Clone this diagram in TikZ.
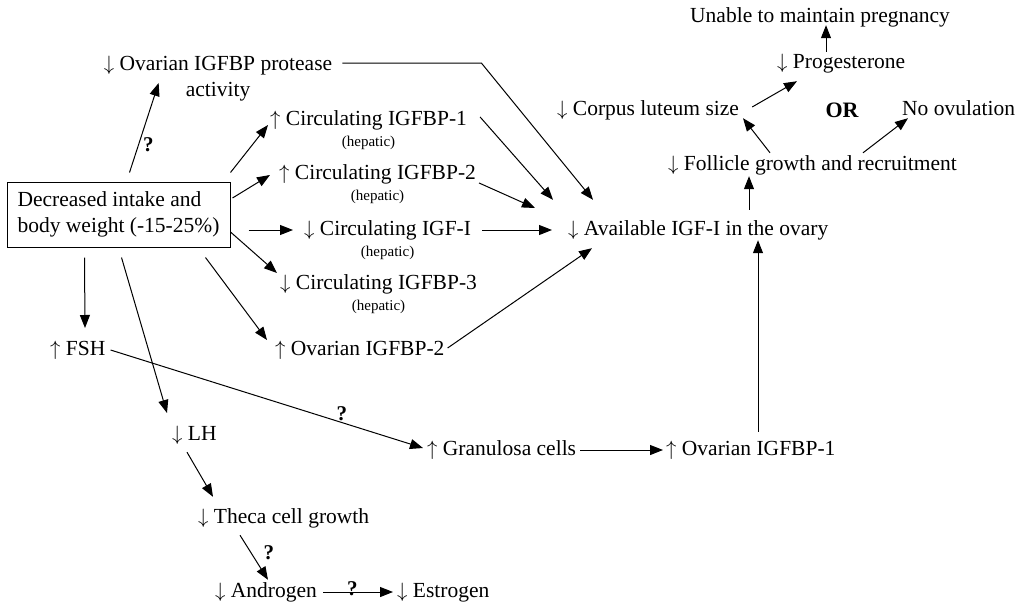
\documentclass[tikz,border=0pt]{standalone}
\usepackage{fontspec}
\setmainfont{Liberation Serif}
\usepackage{tikz}
\usetikzlibrary{arrows.meta,positioning}
\newcommand{\incr}{$\uparrow$}
\newcommand{\decr}{$\downarrow$}

\begin{document}
\begin{tikzpicture}[
        x=1pt, y=-1pt,
        every node/.style={font=\fontsize{21.5}{26}\selectfont},
        lbl/.style={inner sep=0pt, anchor=west, text height=15pt, text depth=5pt},
        hep/.style={font=\fontsize{15}{17}\selectfont, inner sep=0pt},
        label distance=6pt,
        arr/.style={-{Triangle[length=13pt,width=10pt]}, line width=1pt},
        q/.style={font=\fontsize{21}{22}\selectfont\bfseries, inner sep=1pt}
    ]
        \useasboundingbox (0,0) rectangle (1022,605);

        \node[draw, line width=1pt, align=left, minimum width=223pt, minimum height=65pt] (box) at (118.5,214.5) {Decreased intake and\\body weight (-15-25\%)};
        \node[align=center, inner sep=0pt] (ovprot) at (218,79) {\decr{} Ovarian IGFBP protease\\activity};

        \node[lbl, label={[hep]below:(hepatic)}] (circ1) at (270,120) {\incr{} Circulating IGFBP-1};
        \node[lbl, label={[hep]below:(hepatic)}] (circ2) at (279,174) {\incr{} Circulating IGFBP-2};
        \node[lbl, label={[hep]below:(hepatic)}] (circigf) at (304,230) {\decr{} Circulating IGF-I};
        \node[lbl, label={[hep]below:(hepatic)}] (circ3) at (280,284) {\decr{} Circulating IGFBP-3};
        \node[lbl] (ovbp2) at (275,350) {\incr{} Ovarian IGFBP-2};

        \node[lbl] (fsh) at (50,350) {\incr{} FSH};
        \node[lbl] (lh) at (172,435) {\decr{} LH};
        \node[lbl] (theca) at (198,518) {\decr{} Theca cell growth};
        \node[lbl] (andro) at (215,592) {\decr{} Androgen};
        \node[lbl] (estro) at (397,592) {\decr{} Estrogen};
        \node[lbl] (gran) at (427,450) {\incr{} Granulosa cells};
        \node[lbl] (ovbp1) at (666,450) {\incr{} Ovarian IGFBP-1};

        \node[lbl] (avail) at (568,230) {\decr{} Available IGF-I in the ovary};
        \node[lbl] (foll) at (668,165) {\decr{} Follicle growth and recruitment};
        \node[lbl] (corpus) at (557,110) {\decr{} Corpus luteum size};
        \node[font=\fontsize{22}{26}\selectfont\bfseries] (or) at (842,110) {OR};
        \node[lbl] (noov) at (902,110) {No ovulation};
        \node[lbl] (prog) at (777,63) {\decr{} Progesterone};
        \node[lbl] (unable) at (690,17) {Unable to maintain pregnancy};

        % from the box
        \draw[arr] ([shift={(123,-9)}]box.north west) -- node[q, pos=0.31, right=3pt]{?} ([shift={(55,4)}]ovprot.west);
        \draw[arr] ([shift={(0,-9)}]box.north east) -- ([shift={(-2,5)}]circ1.west);
        \draw[arr] ([shift={(2,-16.5)}]box.east) -- ([shift={(-9,1)}]circ2.west);
        \draw[arr] ([xshift=18pt]box.east |- circigf.west) -- ([shift={(-11,0)}]circigf.west);
        \draw[arr] ([shift={(0,17.5)}]box.east) -- ([shift={(-3,-11)}]circ3.west);
        \draw[arr] ([shift={(-25,10)}]box.south east) -- ([shift={(-8,-10)}]ovbp2.west);
        \draw[arr] ([shift={(78,10)}]box.south west) -- ([shift={(35,-22)}]fsh.west);
        \draw[arr] ([shift={(115,10)}]box.south west) -- ([shift={(-5,-22)}]lh.west);

        % into the ovary
        \draw[arr] ([shift={(10,-16)}]ovprot.east) -- ++(139,0) -- ([shift={(25,-20)}]avail.north west);
        \draw[arr] ([shift={(13,-3)}]circ1.east) -- ([shift={(-15,-20)}]avail.north west);
        \draw[arr] ([shift={(3,9)}]circ2.east) -- ([shift={(-33,-22)}]avail.west);
        \draw[arr] ([shift={(11,0)}]circigf.east) -- ([shift={(-16,0)}]avail.west);
        \draw[arr] ([shift={(3,-2)}]ovbp2.east) -- ([shift={(24,8)}]avail.south west);
        \draw[arr] ([shift={(92,-8)}]ovbp1.north west) -- ([shift={(190,0)}]avail.south west);

        % outcome
        \draw[arr] ([shift={(181,-10)}]avail.north west) -- ([shift={(81,1)}]foll.south west);
        \draw[arr] ([shift={(102,-2)}]foll.north west) -- ([shift={(186,-2)}]corpus.south west);
        \draw[arr] ([shift={(195,-2)}]foll.north west) -- ([shift={(6,-2)}]noov.south west);
        \draw[arr] ([shift={(13,-3)}]corpus.east) -- ([shift={(20,8)}]prog.south west);
        \draw[arr] ([shift={(49,-1)}]prog.north west) -- ([shift={(136,-2)}]unable.south west);

        % hormones
        \draw[arr] ([shift={(5,0)}]fsh.east) -- node[q, pos=0.74, above]{?} ([shift={(-4,-2)}]gran.west);
        \draw[arr] ([shift={(15,7)}]lh.south west) -- ([shift={(15,-11)}]theca.north west);
        \draw[arr] ([shift={(42,7)}]theca.south west) -- node[q, pos=0.4, right=11pt]{?} ([shift={(53,-2)}]andro.north west);
        \draw[arr] ([shift={(6,0)}]andro.east) -- node[q, pos=0.42, above=-5pt]{?} ([shift={(-4,0)}]estro.west);
        \draw[arr] ([shift={(4,0)}]gran.east) -- ([shift={(-3,0)}]ovbp1.west);
    \end{tikzpicture}
\end{document}
